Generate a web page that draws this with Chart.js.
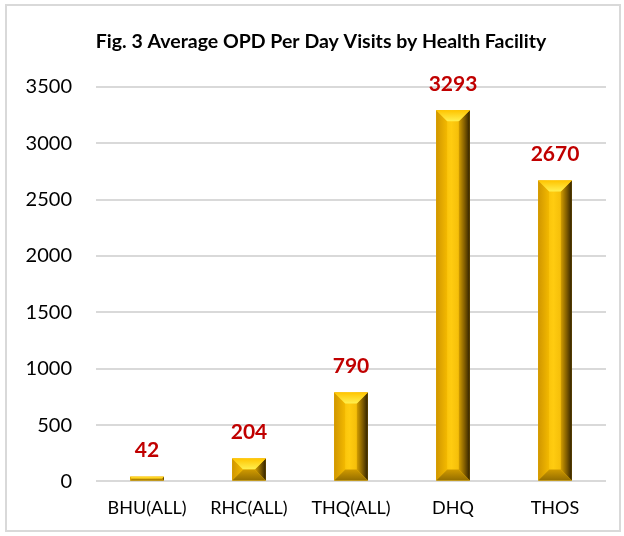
<!DOCTYPE html>
<html>
<head>
<meta charset="utf-8">
<script src="https://cdn.jsdelivr.net/npm/chart.js@4.4.1/dist/chart.umd.min.js"></script>
<style>
  html, body { margin: 0; padding: 0; background: #fff; }
  #wrap { position: relative; width: 624px; height: 536px; }
  #frame { position: absolute; left: 5px; top: 4px; width: 612px; height: 524px; border: 2px solid #d9d9d9; }
  canvas { position: absolute; left: 0; top: 0; }
</style>
</head>
<body>
<div id="wrap">
  <div id="frame"></div>
  <canvas id="chart" width="624" height="536"></canvas>
</div>
<script>
const facilities = ["BHU(ALL)", "RHC(ALL)", "THQ(ALL)", "DHQ", "THOS"];
const avgVisits = [42, 204, 790, 3293, 2670];
const yStep = 500;
const yMax = 3500;
const chartTitle = "Fig. 3 Average OPD Per Day Visits by Health Facility";

const FONT = "Lato, 'Open Sans', sans-serif";

function poly(ctx, pts) {
  ctx.beginPath();
  ctx.moveTo(pts[0][0], pts[0][1]);
  for (let i = 1; i < pts.length; i++) ctx.lineTo(pts[i][0], pts[i][1]);
  ctx.closePath();
  ctx.fill();
}

// draws the bevelled "gold bar" look on top of each plain bar
const bevelBars = {
  id: "bevelBars",
  afterDatasetsDraw(chart) {
    const ctx = chart.ctx;
    chart.getDatasetMeta(0).data.forEach((bar) => {
      const p = bar.getProps(["x", "y", "base", "width"], true);
      const l = p.x - p.width / 2, r = p.x + p.width / 2;
      const t = Math.min(p.y, p.base), b = Math.max(p.y, p.base);
      const d = Math.min(11, (b - t) / 2, (r - l) / 2);
      ctx.save();

      let g = ctx.createLinearGradient(l, 0, r, 0);
      g.addColorStop(0, "#f0b400");
      g.addColorStop(0.45, "#ffcc10");
      g.addColorStop(1, "#e6aa00");
      ctx.fillStyle = g;
      ctx.fillRect(l, t, r - l, b - t);

      // left bevel
      g = ctx.createLinearGradient(l, 0, l + d, 0);
      g.addColorStop(0, "#d09600");
      g.addColorStop(1, "#f3b900");
      ctx.fillStyle = g;
      poly(ctx, [[l, t], [l + d, t + d], [l + d, b - d], [l, b]]);

      // right bevel
      g = ctx.createLinearGradient(r - d, 0, r, 0);
      g.addColorStop(0, "#d39e00");
      g.addColorStop(0.55, "#7d5a00");
      g.addColorStop(1, "#2e2000");
      ctx.fillStyle = g;
      poly(ctx, [[r, t], [r - d, t + d], [r - d, b - d], [r, b]]);

      // top bevel
      g = ctx.createLinearGradient(0, t, 0, t + d);
      g.addColorStop(0, "#ffc400");
      g.addColorStop(1, "#fff050");
      ctx.fillStyle = g;
      poly(ctx, [[l, t], [r, t], [r - d, t + d], [l + d, t + d]]);

      // bottom bevel
      g = ctx.createLinearGradient(0, b - d, 0, b);
      g.addColorStop(0, "#d09a00");
      g.addColorStop(1, "#946e00");
      ctx.fillStyle = g;
      poly(ctx, [[l, b], [r, b], [r - d, b - d], [l + d, b - d]]);

      ctx.restore();
    });
  }
};

const valueLabels = {
  id: "valueLabels",
  afterDatasetsDraw(chart) {
    const ctx = chart.ctx;
    ctx.save();
    ctx.font = "bold 21px " + FONT;
    ctx.fillStyle = "#c00000";
    ctx.textAlign = "center";
    ctx.textBaseline = "middle";
    chart.getDatasetMeta(0).data.forEach((bar, i) => {
      ctx.fillText(String(avgVisits[i]), bar.x, bar.y - 26);
    });
    // chart title, centred a little right of the canvas middle
    ctx.fillStyle = "#000";
    ctx.font = "bold 19.5px " + FONT;
    ctx.fillText(chartTitle, 321, 42);
    ctx.restore();
  }
};

new Chart(document.getElementById("chart"), {
  type: "bar",
  data: {
    labels: facilities,
    datasets: [{
      data: avgVisits,
      backgroundColor: "#ffc000",
      borderWidth: 0,
      categoryPercentage: 1,
      barPercentage: 0.33,
    }],
  },
  options: {
    responsive: false,
    animation: false,
    layout: { padding: { left: 0, right: 18, top: 87, bottom: 1 } },
    plugins: {
      legend: { display: false },
      tooltip: { enabled: false },
      title: { display: false },
    },
    scales: {
      x: {
        grid: { display: false, drawTicks: false },
        border: { display: false },
        ticks: { color: "#000", font: { family: FONT, size: 18 }, padding: 16 },
      },
      y: {
        min: 0,
        max: yMax,
        afterFit: (s) => { s.width = 96; },
        grid: { color: "#d9d9d9", lineWidth: 2, drawTicks: false },
        border: { display: false },
        ticks: {
          stepSize: yStep,
          color: "#000",
          font: { family: FONT, size: 20 },
          padding: 24,
          callback: (v) => String(v),
        },
      },
    },
  },
  plugins: [bevelBars, valueLabels],
});
</script>
</body>
</html>
